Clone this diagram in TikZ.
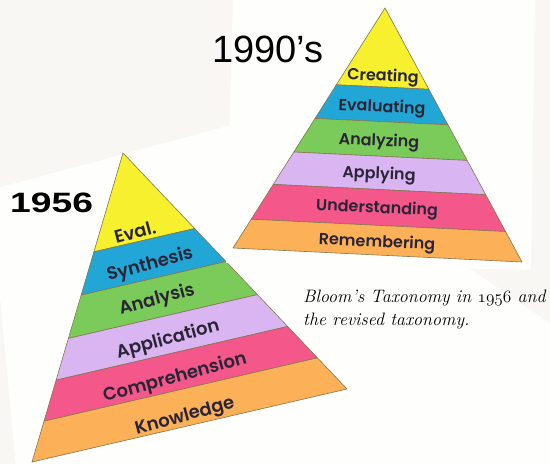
\documentclass[tikz,border=0pt]{standalone}
\usepackage{fontspec}
\newfontfamily\lblfont{Poppins SemiBold}
\newfontfamily\yrfont{Liberation Sans}
\newfontfamily\cpfont[FakeStretch=1.33]{Liberation Sans}
\usetikzlibrary{calc}
\definecolor{bg}{HTML}{F8F7F3}
\definecolor{card}{HTML}{FEFEFD}
\definecolor{cyel}{HTML}{F6F02E}
\definecolor{cblu}{HTML}{22A6D6}
\definecolor{cgrn}{HTML}{7BCB5A}
\definecolor{cpur}{HTML}{D9B6F2}
\definecolor{cpnk}{HTML}{F4588A}
\definecolor{corg}{HTML}{FCB057}
\definecolor{cedge}{HTML}{857650}
\definecolor{ctxt}{HTML}{2A2436}
\tikzset{
  band/.style={fill=#1, draw=cedge, line width=0.6pt, line join=round},
  rlabel/.style={font=\lblfont\fontsize{16}{18}\selectfont, text=ctxt, rotate=-2.5, inner sep=0pt},
  llabel/.style={font=\lblfont\fontsize{18}{20}\selectfont, text=ctxt, rotate=15, inner sep=0pt},
  captxt/.style={font=\itshape\fontsize{18}{22}\selectfont, anchor=base west, inner sep=0pt}
}
\newcommand{\osn}[1]{{\usefont{OML}{cmm}{m}{it}#1}}
\begin{document}
\begin{tikzpicture}[x=1pt,y=-1pt]
\useasboundingbox (0,0) rectangle (550,464);
\fill[bg] (0,0) rectangle (550,464);
% left card
\fill[card] (-10,190) -- (250,120) -- (560,330) -- (560,480) -- (20,510) -- cycle;
% left pyramid
\coordinate (LA) at (123,153);
\coordinate (LL) at (32,462);
\coordinate (LR) at (347,389);
\foreach \a/\b/\c in {0/0.32/cyel,0.32/0.46/cblu,0.46/0.60/cgrn,0.60/0.735/cpur,0.735/0.868/cpnk,0.868/1/corg}{
  \path[band=\c] ($(LA)!\a!(LL)$) -- ($(LA)!\b!(LL)$) -- ($(LA)!\b!(LR)$) -- ($(LA)!\a!(LR)$) -- cycle;
}
% right card
\fill[card] (233,-2) -- (535,-2) -- (531,270) -- (226,263) -- cycle;
% right pyramid
\coordinate (RA) at (385,8);
\coordinate (RL) at (233,248);
\coordinate (RR) at (522,262);
\foreach \a/\b/\c in {0/0.32/cyel,0.32/0.46/cblu,0.46/0.60/cgrn,0.60/0.735/cpur,0.735/0.88/cpnk,0.88/1/corg}{
  \path[band=\c] ($(RA)!\a!(RL)$) -- ($(RA)!\b!(RL)$) -- ($(RA)!\b!(RR)$) -- ($(RA)!\a!(RR)$) -- cycle;
}
% right labels
\node[rlabel] (r1) at (383,77) {Creating};
\node[rlabel] (r2) at (382,108) {Evaluating};
\node[rlabel] (r3) at (379,142) {Analyzing};
\node[rlabel] (r4) at (379,175) {Applying};
\node[rlabel] (r5) at (377,209) {Understanding};
\node[rlabel] (r6) at (377,243) {Remembering};
% left labels
\node[llabel] (l1) at (135,232) {Eval.};
\node[llabel] (l2) at (150,265) {Synthesis};
\node[llabel] (l3) at (157,300) {Analysis};
\node[llabel] (l4) at (168,340) {Application};
\node[llabel] (l5) at (175,378) {Comprehension};
\node[llabel] (l6) at (185,417) {Knowledge};
% titles
\node[anchor=base west, inner sep=0pt, font=\yrfont\fontsize{38}{40}\selectfont] (t90) at (212,62) {1990’s};
\node[anchor=base west, inner sep=0pt, font=\cpfont\bfseries\fontsize{28}{30}\selectfont] (t56) at (10,212) {1956};
% caption
\node[captxt] (c1) at (303,302) {Bloom’s Taxonomy in \osn{1956} and};
\node[captxt] (c2) at (303,325) {the revised taxonomy.};
\end{tikzpicture}
\end{document}
